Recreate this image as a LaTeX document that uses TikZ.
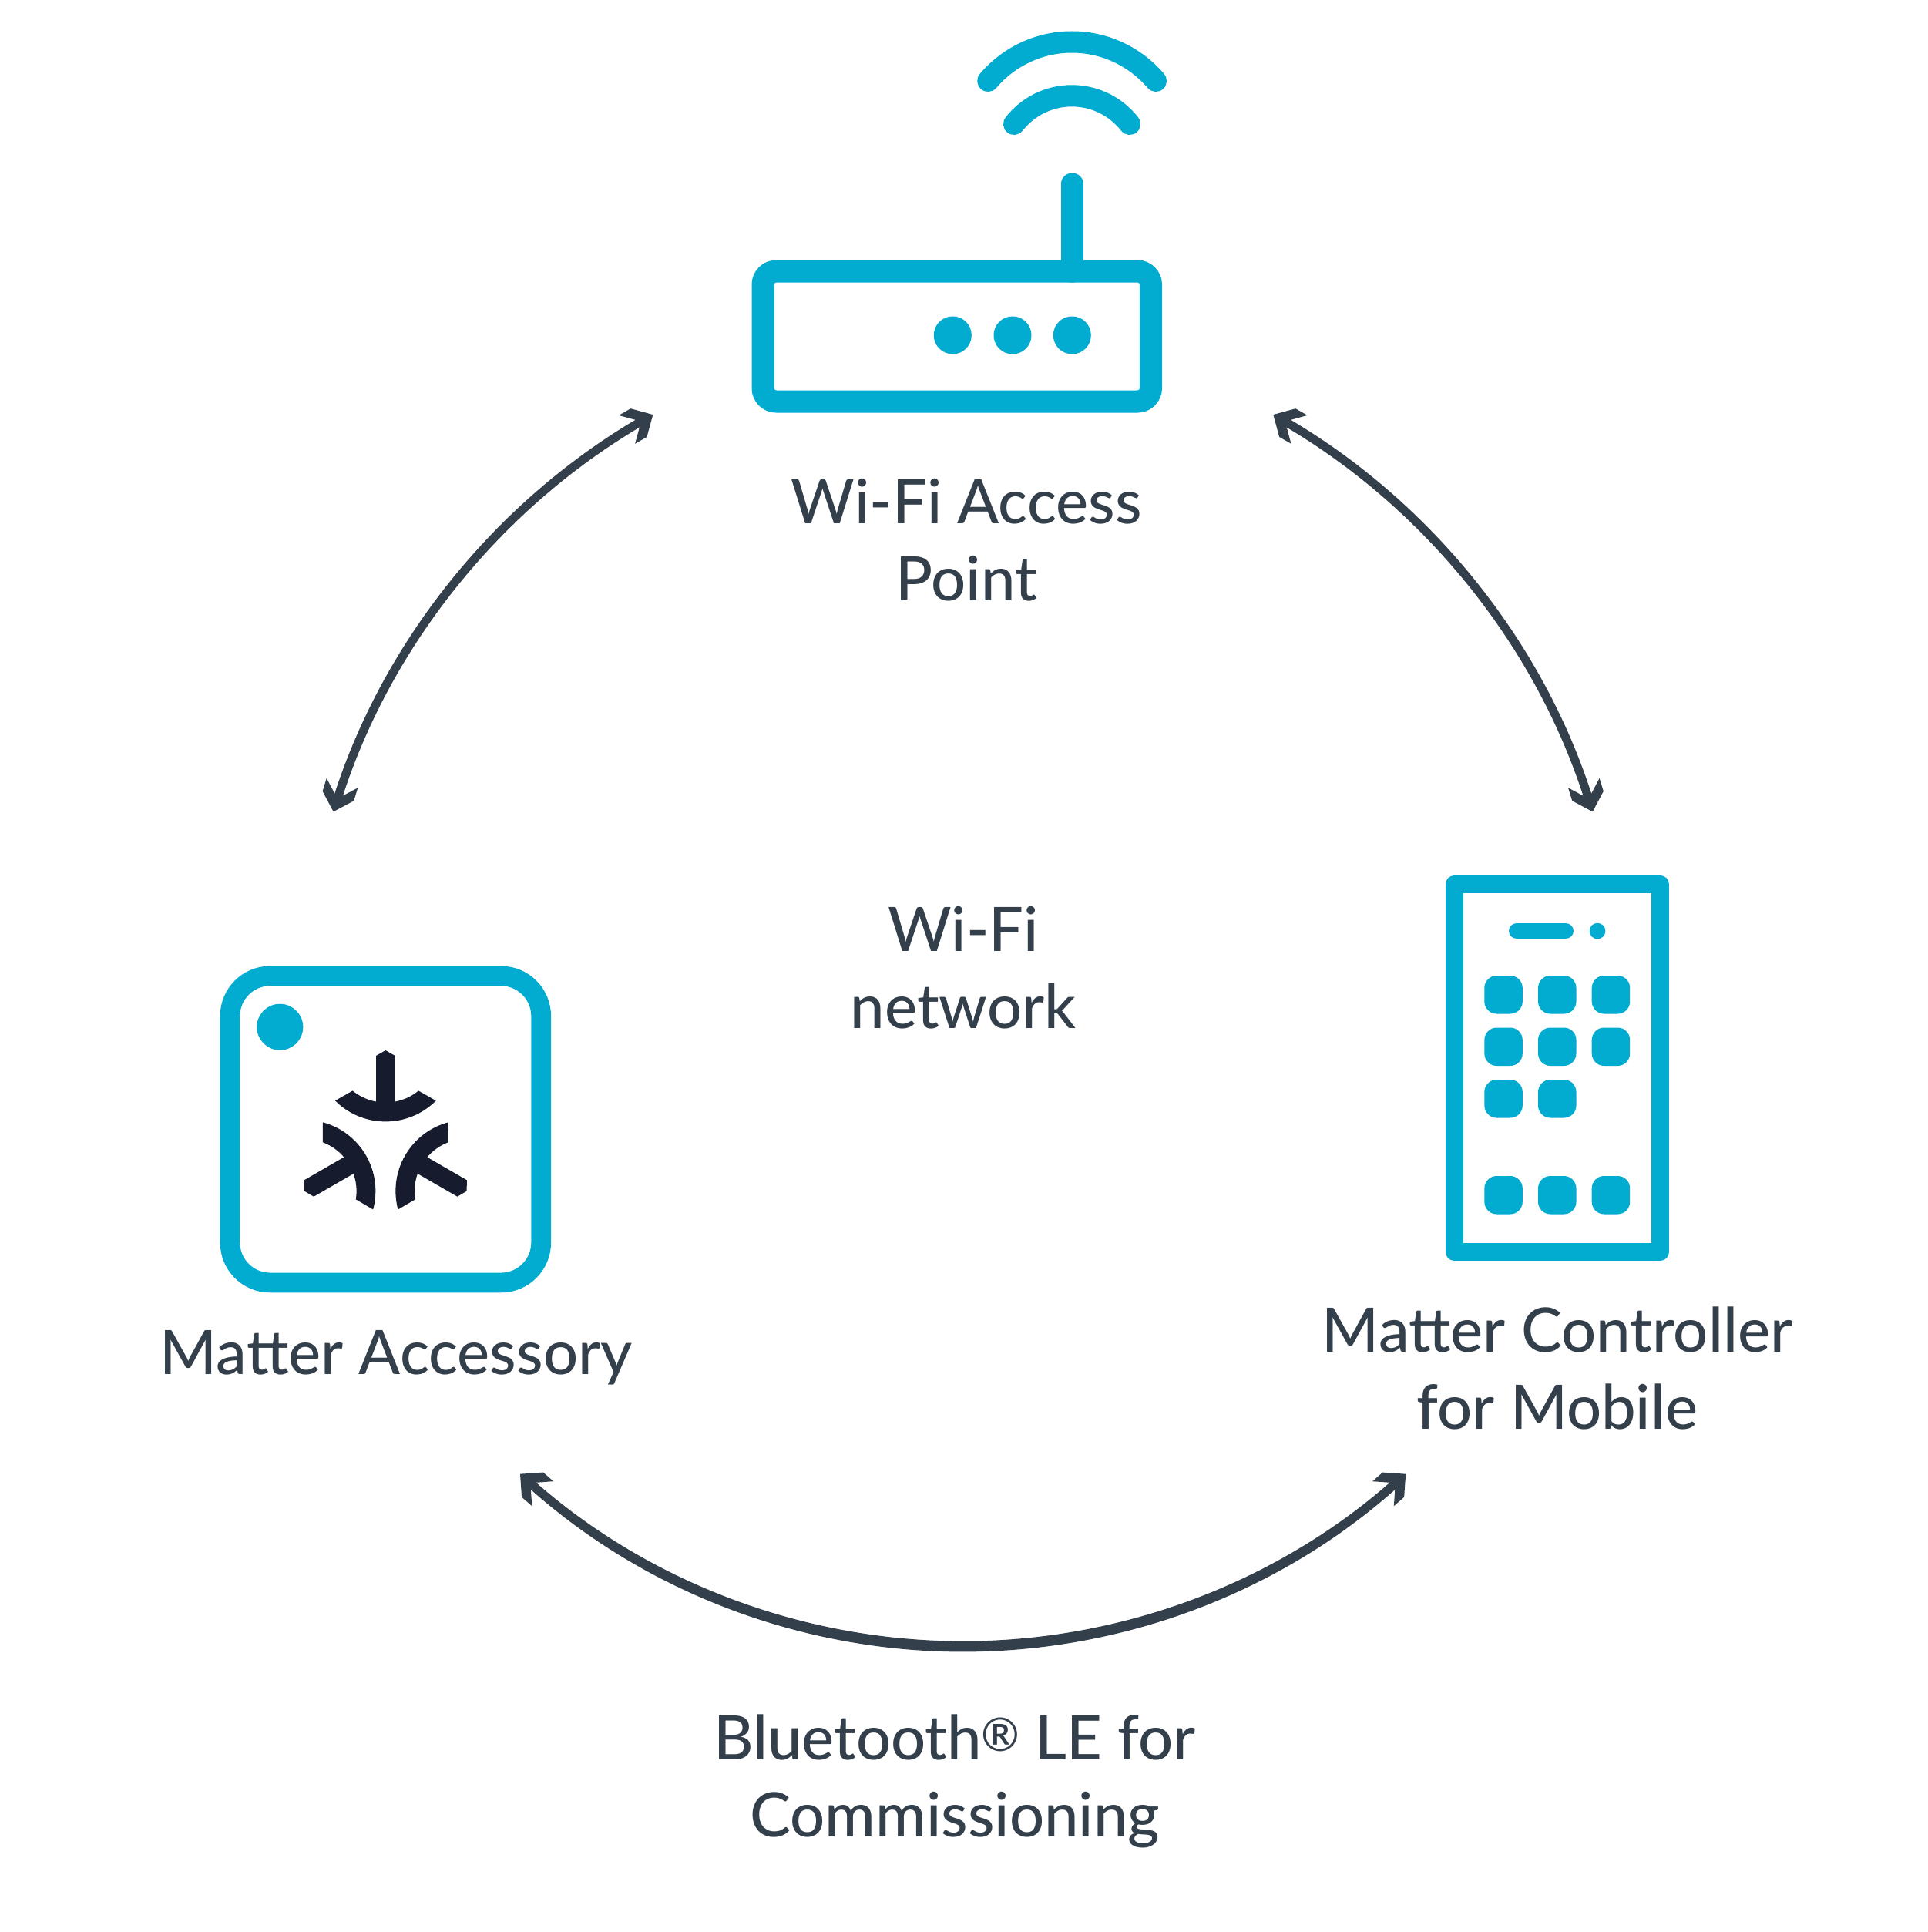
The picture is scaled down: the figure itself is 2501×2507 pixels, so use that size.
\documentclass[tikz,border=0pt]{standalone}
\usepackage{fontspec}
\setmainfont{Lato Medium}
\definecolor{mblue}{HTML}{02ABD0}
\definecolor{mdark}{HTML}{333F4A}
\definecolor{mlogo}{HTML}{161C2D}
\newcommand{\regmark}{\raisebox{11pt}{\fontsize{60}{60}\selectfont ®}}
\tikzset{
  x=1pt,y=-1pt,
  lab/.style={text=mdark,align=center,inner sep=0pt,font=\fontsize{79.5}{100}\selectfont},
  blueline/.style={draw=mblue,line cap=round},
  shaft/.style={draw=mdark,line width=11pt,shorten <=9pt,shorten >=9pt},
  chev/.pic={\fill[mdark] (0,0)--(-21.2,21.2)--(-38.8,21.2)--(-17.6,0)--(-38.8,-21.2)--(-21.2,-21.2)--cycle;},
}
\begin{document}
\begin{tikzpicture}
\useasboundingbox (0,0) rectangle (2501,2507);
\fill[white] (0,0) rectangle (2501,2507);
% router
\draw[draw=mblue,line width=29pt,rounded corners=17.5pt] (990,352) rectangle (1493.5,521);
\draw[blueline,line width=28.5pt] (1391.3,238.7)--(1391.3,352.4);
\fill[mblue] (1236.3,435) circle (24.5) (1314,435) circle (24.5) (1391.3,435) circle (24.5);
\draw[blueline,line width=28pt] (1282.2,105) .. controls (1309.4,73) and (1349,54.5) .. (1391,54.5) .. controls (1433,54.5) and (1472.6,73) .. (1500,105);
\draw[blueline,line width=28pt] (1316,161) .. controls (1334.1,137.8) and (1361.6,124.3) .. (1391,124.3) .. controls (1420.4,124.3) and (1447.9,137.8) .. (1466,161);
% accessory
\draw[draw=mblue,line width=25.7pt,rounded corners=52pt] (298.5,1266.4) rectangle (702.2,1664.4);
\fill[mblue] (363.3,1332.7) circle (30);
\foreach \a in {0,120,240}{
\begin{scope}[shift={(500.33,1484.67)},rotate=\a,scale=0.33333]
\fill[mlogo] (-37,-344)--(0,-365)--(37,-344)--(37,-165.4) .. controls (70.5,-171.6) and (101.9,-186.1) .. (128.3,-207.7)--(195.9,-169.1) .. controls (143.9,-117.1) and (73.5,-88) .. (0,-88) .. controls (-73.5,-88) and (-143.9,-117.1) .. (-195.9,-169.1)--(-128.3,-207.7) .. controls (-101.9,-186.1) and (-70.5,-171.6) .. (-37,-165.4)--cycle;
\end{scope}}
% phone
\draw[draw=mblue,line width=23pt,line join=round] (1887.5,1147.2) rectangle (2154.2,1624.7);
\draw[blueline,line width=20.7pt] (1968.4,1208.1)--(2031.6,1208.1);
\fill[mblue] (2073,1208.1) circle (10.3);
\foreach \x/\y in {1926.3/1266,1996/1266,2065.7/1266,1926.3/1333.5,1996/1333.5,2065.7/1333.5,1926.3/1401,1996/1401,1926.3/1526,1996/1526,2065.7/1526}{
\fill[mblue,rounded corners=16pt] (\x,\y) rectangle ++(49.5,49.5);}
% arrows
\coordinate (A) at (432.7,1053.2);
\coordinate (B) at (847.3,538.1);
\coordinate (C) at (1652.3,538.1);
\coordinate (D) at (2066.7,1053.2);
\coordinate (E) at (675,1912.7);
\coordinate (F) at (1824.2,1912.7);
\draw[shaft] (A) .. controls (499.5,835.2) and (649.2,651) .. (B);
\draw[shaft] (C) .. controls (1850.1,651) and (2000,835.2) .. (D);
\draw[shaft] (E) .. controls (831.8,2055) and (1037,2135.1) .. (1249.6,2135.1) .. controls (1462.2,2135.1) and (1667.4,2055) .. (F);
\draw[shaft] (E) .. controls (831.8,2057.5) and (1037,2137.9) .. (1249.6,2137.9) .. controls (1462.2,2137.9) and (1667.4,2057.5) .. (F);
\pic[rotate=253] at (A) {chev};
\pic[rotate=29.7] at (B) {chev};
\pic[rotate=150.3] at (C) {chev};
\pic[rotate=287] at (D) {chev};
\pic[rotate=139] at (E) {chev};
\pic[rotate=41] at (F) {chev};
% labels
\node[lab] (ap) at (1254,701) {Wi-Fi Access\\Point};
\node[lab] (net) at (1250,1256) {Wi-Fi\\network};
\node[lab] (acc) at (514,1762) {Matter Accessory};
\node[lab] (ctl) at (2021,1775) {Matter Controller\\for Mobile};
\node[lab] (ble) at (1239,2311) {Bluetooth\regmark{} LE for\\Commissioning};
\end{tikzpicture}
\end{document}
